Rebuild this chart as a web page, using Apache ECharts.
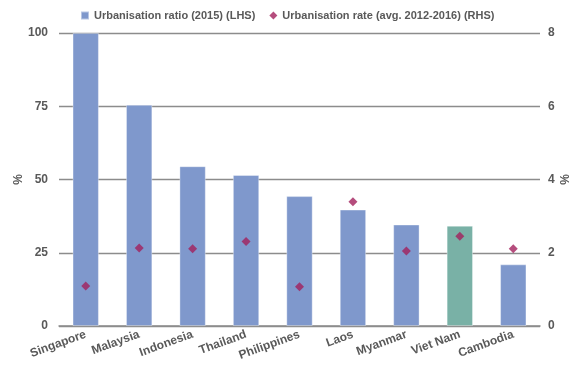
<!DOCTYPE html>
<html>
<head>
<meta charset="utf-8">
<style>
  html, body { margin: 0; padding: 0; background: #fff; }
  #chart { width: 575px; height: 370px; }
</style>
<script src="https://cdn.jsdelivr.net/npm/echarts@6/dist/echarts.min.js"></script>
</head>
<body>
<div id="chart"></div>
<script>
// Countries along the category axis
const countries = ['Singapore', 'Malaysia', 'Indonesia', 'Thailand', 'Philippines', 'Laos', 'Myanmar', 'Viet Nam', 'Cambodia'];
// Share of population living in urban areas, 2015 (%)
const urbanRatio = [100, 75.5, 54.5, 51.5, 44.3, 39.7, 34.6, 34.2, 21.0];
// Average annual urbanisation rate, 2012-2016 (%)
const urbanRate = [1.09, 2.13, 2.11, 2.31, 1.07, 3.39, 2.05, 2.45, 2.11];
// Axis ticks
const leftTicks = [0, 25, 50, 75, 100];
const rightTicks = [0, 2, 4, 6, 8];

const highlight = 'Viet Nam';
const barBlue = '#7f98cc';
const barGreen = '#79b1a6';
const markerColor = '#a3205c';
const textColor = '#595959';
const font = 'Liberation Sans, Arial, sans-serif';

const chart = echarts.init(document.getElementById('chart'), null, { renderer: 'canvas' });

chart.setOption({
  animation: false,
  textStyle: { fontFamily: font },
  legend: {
    top: 5,
    left: 75,
    itemGap: 14,
    itemWidth: 8,
    itemHeight: 8,
    textStyle: { fontFamily: font, fontSize: 11, fontWeight: 'bold', color: textColor },
    data: [
      { name: 'Urbanisation ratio (2015) (LHS)', icon: 'rect', itemStyle: { color: barBlue } },
      { name: 'Urbanisation rate (avg. 2012-2016) (RHS)', icon: 'diamond', itemStyle: { color: markerColor } }
    ]
  },
  grid: { left: 59, right: 35, top: 33, bottom: 44, containLabel: false, outerBoundsMode: 'none', show: false, borderWidth: 0 },
  xAxis: {
    type: 'category',
    data: countries,
    axisLine: { show: true, lineStyle: { color: '#8c8c8c', width: 1.5 } },
    axisTick: { show: false },
    splitLine: { show: false },
    axisLabel: {
      interval: 0,
      rotate: 20,
      margin: 8,
      color: textColor,
      fontSize: 12,
      fontWeight: 'bold',
      fontFamily: font
    }
  },
  yAxis: [
    {
      type: 'value',
      position: 'left',
      min: leftTicks[0],
      max: leftTicks[leftTicks.length - 1],
      interval: leftTicks[1] - leftTicks[0],
      name: '%',
      nameLocation: 'middle',
      nameGap: 34,
      nameRotate: 90,
      nameMoveOverlap: false,
      nameTextStyle: { color: textColor, fontSize: 12, fontWeight: 'bold', fontFamily: font },
      axisLine: { show: false },
      axisTick: { show: false },
      axisLabel: { color: textColor, fontSize: 12, fontWeight: 'bold', margin: 11, fontFamily: font },
      splitLine: { lineStyle: { color: '#8c8c8c', width: 1.3 } }
    },
    {
      type: 'value',
      position: 'right',
      min: rightTicks[0],
      max: rightTicks[rightTicks.length - 1],
      interval: rightTicks[1] - rightTicks[0],
      name: '%',
      nameLocation: 'middle',
      nameGap: 20,
      nameRotate: 90,
      nameMoveOverlap: false,
      nameTextStyle: { color: textColor, fontSize: 12, fontWeight: 'bold', fontFamily: font },
      axisLine: { show: false },
      axisTick: { show: false },
      axisLabel: { color: textColor, fontSize: 12, fontWeight: 'bold', margin: 8, fontFamily: font },
      splitLine: { show: false }
    }
  ],
  series: [
    {
      name: 'Urbanisation ratio (2015) (LHS)',
      type: 'bar',
      yAxisIndex: 0,
      barWidth: '49%',
      data: urbanRatio.map((v, i) => ({
        value: v,
        itemStyle: { color: countries[i] === highlight ? barGreen : barBlue }
      })),
      itemStyle: { borderColor: 'rgba(255,255,255,0.45)', borderWidth: 0.8 },
      z: 2
    },
    {
      name: 'Urbanisation rate (avg. 2012-2016) (RHS)',
      type: 'scatter',
      yAxisIndex: 1,
      symbol: 'diamond',
      symbolSize: 9,
      itemStyle: { color: markerColor },
      data: urbanRate,
      z: 3
    }
  ]
});
</script>
</body>
</html>
